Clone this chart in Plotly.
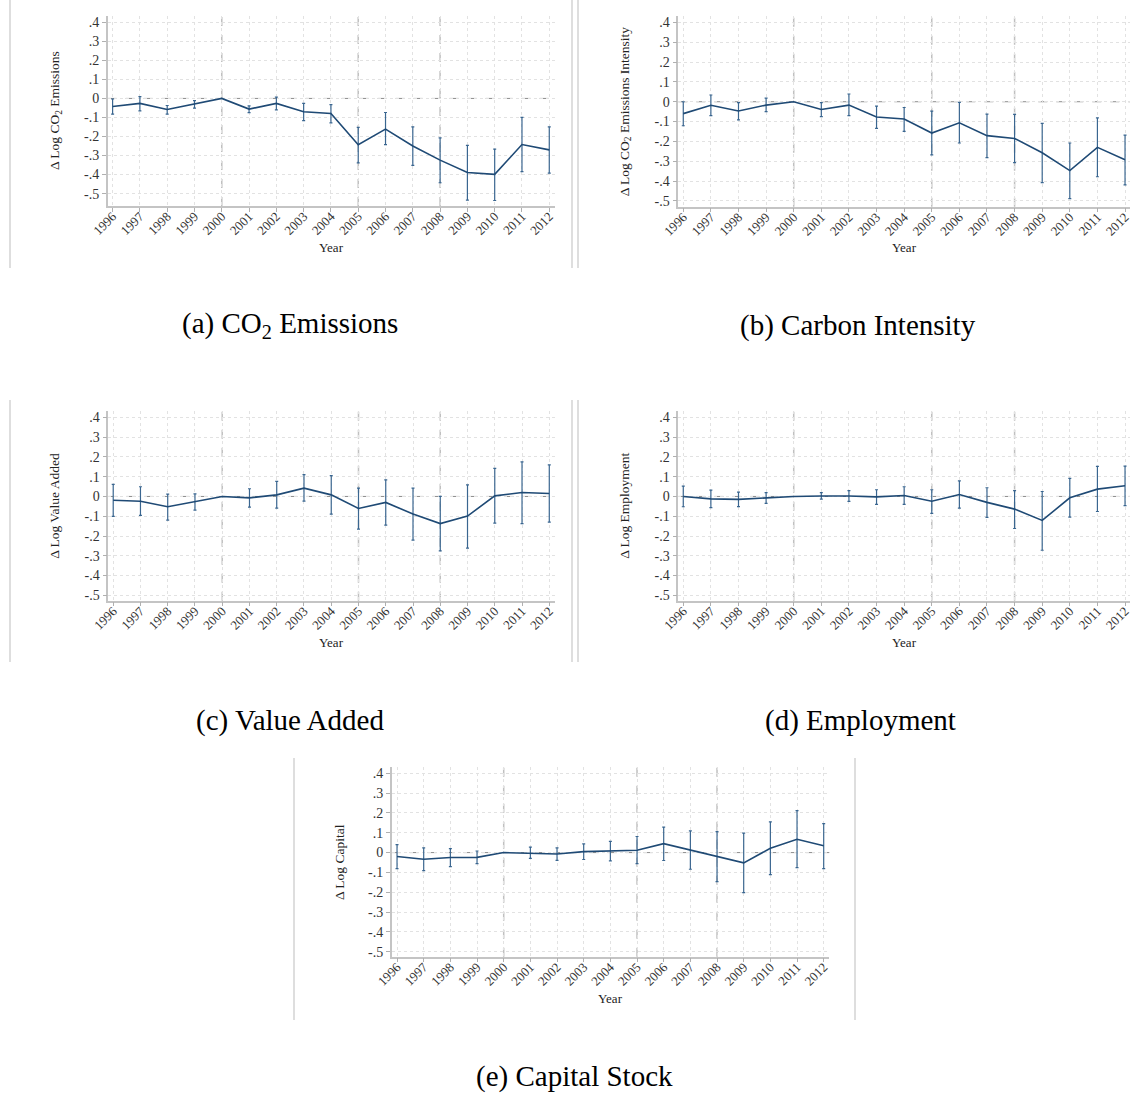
import numpy as np
import plotly.graph_objects as go

W, H = 1133, 1093

years = list(range(1996, 2013))

# (a) CO2 emissions
co2_est = [-0.042, -0.026, -0.058, -0.030, 0.0, -0.056, -0.026, -0.070, -0.079, -0.243, -0.161, -0.250, -0.324, -0.389, -0.399, -0.242, -0.270]
co2_hi = [-0.003, 0.010, -0.037, -0.011, None, -0.039, 0.007, -0.026, -0.033, -0.152, -0.074, -0.149, -0.207, -0.247, -0.266, -0.100, -0.149]
co2_lo = [-0.082, -0.065, -0.082, -0.051, None, -0.075, -0.060, -0.117, -0.128, -0.338, -0.243, -0.352, -0.443, -0.534, -0.536, -0.384, -0.392]

# (b) Carbon intensity
ci_est = [-0.060, -0.018, -0.047, -0.017, 0.0, -0.039, -0.017, -0.077, -0.087, -0.158, -0.106, -0.171, -0.185, -0.257, -0.347, -0.230, -0.292]
ci_hi = [0.000, 0.034, -0.005, 0.018, None, -0.005, 0.039, -0.022, -0.029, -0.047, -0.003, -0.062, -0.064, -0.109, -0.208, -0.081, -0.168]
ci_lo = [-0.121, -0.070, -0.091, -0.050, None, -0.075, -0.070, -0.134, -0.149, -0.268, -0.208, -0.282, -0.307, -0.408, -0.488, -0.378, -0.419]

# (c) Value added
va_est = [-0.019, -0.024, -0.052, -0.027, 0.0, -0.007, 0.008, 0.042, 0.008, -0.061, -0.030, -0.089, -0.137, -0.099, 0.003, 0.020, 0.015]
va_hi = [0.061, 0.049, 0.012, 0.013, None, 0.039, 0.076, 0.110, 0.105, 0.042, 0.084, 0.042, 0.000, 0.059, 0.142, 0.175, 0.160]
va_lo = [-0.101, -0.096, -0.120, -0.069, None, -0.054, -0.059, -0.024, -0.089, -0.165, -0.145, -0.221, -0.275, -0.261, -0.135, -0.137, -0.130]

# (d) Employment
emp_est = [0.000, -0.012, -0.015, -0.008, 0.0, 0.002, 0.002, -0.002, 0.005, -0.024, 0.010, -0.030, -0.064, -0.121, -0.007, 0.037, 0.054]
emp_hi = [0.052, 0.032, 0.022, 0.019, None, 0.019, 0.029, 0.034, 0.049, 0.034, 0.079, 0.044, 0.029, 0.025, 0.091, 0.152, 0.153]
emp_lo = [-0.052, -0.056, -0.051, -0.035, None, -0.013, -0.025, -0.040, -0.040, -0.086, -0.059, -0.106, -0.162, -0.272, -0.105, -0.076, -0.046]

# (e) Capital
cap_est = [-0.020, -0.034, -0.025, -0.024, 0.0, -0.002, -0.007, 0.005, 0.008, 0.012, 0.045, 0.012, -0.020, -0.052, 0.022, 0.067, 0.034]
cap_hi = [0.040, 0.024, 0.020, 0.008, None, 0.027, 0.024, 0.044, 0.057, 0.081, 0.128, 0.109, 0.106, 0.098, 0.155, 0.212, 0.146]
cap_lo = [-0.081, -0.091, -0.071, -0.056, None, -0.029, -0.039, -0.035, -0.042, -0.056, -0.040, -0.084, -0.146, -0.202, -0.111, -0.076, -0.081]

y_tickvals = [0.4, 0.3, 0.2, 0.1, 0.0, -0.1, -0.2, -0.3, -0.4, -0.5]
y_ticktext = [".4", ".3", ".2", ".1", "0", "-.1", "-.2", "-.3", "-.4", "-.5"]
ref_years = [2000, 2005, 2008]

ytitles = ["Δ Log CO<sub>2</sub> Emissions", "Δ Log CO<sub>2</sub> Emissions Intensity",
           "Δ Log Value Added", "Δ Log Employment", "Δ Log Capital"]
captions = ["(a) CO<sub>2</sub> Emissions", "(b) Carbon Intensity", "(c) Value Added",
            "(d) Employment", "(e) Capital Stock"]

series = [(co2_est, co2_hi, co2_lo), (ci_est, ci_hi, ci_lo), (va_est, va_hi, va_lo),
          (emp_est, emp_hi, emp_lo), (cap_est, cap_hi, cap_lo)]

# layout geometry in pixels: plot left, right, top, bottom, x range, y range
panels = [
    dict(l=107.7, r=555, t=16, b=206, xr=[1995.82, 2012.21], yr=[-0.565, 0.433],
         ytx=55, xtitle_y=248, cap=(290, 325)),
    dict(l=678.3, r=1130, t=16, b=206.7, xr=[1995.82, 2012.18], yr=[-0.529, 0.432],
         ytx=625, xtitle_y=248, cap=(858, 325)),
    dict(l=108.3, r=555, t=411, b=600.7, xr=[1995.82, 2012.21], yr=[-0.527, 0.432],
         ytx=55, xtitle_y=642, cap=(290, 720)),
    dict(l=678.3, r=1130, t=411, b=600.7, xr=[1995.82, 2012.18], yr=[-0.527, 0.432],
         ytx=625, xtitle_y=642, cap=(860, 720)),
    dict(l=391.7, r=829.3, t=767.3, b=956.7, xr=[1995.80, 2012.21], yr=[-0.525, 0.430],
         ytx=339, xtitle_y=998, cap=(574, 1076)),
]

FONT = "Liberation Serif"
LINE_COL = "#1f4a75"
fig = go.Figure()
layout = dict(width=W, height=H, margin=dict(l=0, r=0, t=0, b=0, pad=0), autosize=False,
              template="none",
              paper_bgcolor="white", plot_bgcolor="white", showlegend=False,
              font=dict(family=FONT, size=12, color="#333333"))
shapes, annots = [], []

def fx(px):
    return px / W

def fy(py):
    return 1 - py / H

for i, (p, (est, hi, lo)) in enumerate(zip(panels, series)):
    n = i + 1
    xa = "xaxis" if n == 1 else f"xaxis{n}"
    ya = "yaxis" if n == 1 else f"yaxis{n}"
    xr = "x" if n == 1 else f"x{n}"
    yr = "y" if n == 1 else f"y{n}"
    e = np.array(est, dtype=float)
    h = np.array([np.nan if v is None else v for v in hi], dtype=float)
    lw = np.array([np.nan if v is None else v for v in lo], dtype=float)
    fig.add_trace(go.Scatter(
        x=years, y=e, mode="lines", xaxis=xr, yaxis=yr,
        line=dict(color=LINE_COL, width=1.6),
        error_y=dict(type="data", symmetric=False, array=h - e, arrayminus=e - lw,
                     color="#3a6690", thickness=1.2, width=1.5),
    ))
    layout[xa] = dict(domain=[fx(p["l"]), fx(p["r"])], range=p["xr"], anchor=yr,
                      automargin=False, ticklabelstandoff=-8,
                      tickmode="array", tickvals=years, ticktext=[str(y) for y in years],
                      tickangle=-45, ticks="outside", ticklen=4, tickcolor="#b0b0b0",
                      showline=True, linecolor="#c4c4c4", linewidth=1.5,
                      showgrid=True, gridcolor="#e2e2e2", griddash="dot", gridwidth=1,
                      zeroline=False, tickfont=dict(family=FONT, size=13, color="#333333"),
                      fixedrange=True)
    layout[ya] = dict(domain=[fy(p["b"]), fy(p["t"])], range=p["yr"], anchor=xr,
                      automargin=False,
                      tickmode="array", tickvals=y_tickvals, ticktext=y_ticktext,
                      ticks="outside", ticklen=4, tickcolor="#b0b0b0",
                      showline=True, linecolor="#c4c4c4", linewidth=1.5,
                      showgrid=True, gridcolor="#e2e2e2", griddash="dot", gridwidth=1,
                      zeroline=False, tickfont=dict(family=FONT, size=14, color="#333333"),
                      fixedrange=True)
    for ry in ref_years:
        shapes.append(dict(type="line", xref=xr, yref=f"{yr} domain", x0=ry, x1=ry, y0=0, y1=1,
                           line=dict(color="#c0c0c0", width=1.5, dash="dash"), layer="below"))
    shapes.append(dict(type="line", xref=f"{xr} domain", yref=yr, x0=0, x1=1, y0=0, y1=0,
                       line=dict(color="#8c8c8c", width=1, dash="dash"), layer="below"))
    annots.append(dict(text=ytitles[i], x=fx(p["ytx"]), y=fy((p["t"] + p["b"]) / 2),
                       xref="paper", yref="paper", showarrow=False, textangle=-90,
                       xanchor="center", yanchor="middle",
                       font=dict(family=FONT, size=13.5, color="#222222")))
    annots.append(dict(text="Year", x=fx((p["l"] + p["r"]) / 2), y=fy(p["xtitle_y"]),
                       xref="paper", yref="paper", showarrow=False,
                       xanchor="center", yanchor="middle",
                       font=dict(family=FONT, size=13, color="#222222")))
    annots.append(dict(text=captions[i], x=fx(p["cap"][0]), y=fy(p["cap"][1]),
                       xref="paper", yref="paper", showarrow=False,
                       xanchor="center", yanchor="middle",
                       font=dict(family=FONT, size=29, color="#000000")))

frames = [(10, 0, 268), (572, 0, 268), (578, 0, 268),
          (10, 400, 662), (572, 400, 662), (578, 400, 662),
          (294, 758, 1020), (855, 758, 1020)]
for x0, y0, y1 in frames:
    shapes.append(dict(type="line", xref="paper", yref="paper",
                       x0=fx(x0), x1=fx(x0), y0=fy(y0), y1=fy(y1),
                       line=dict(color="#c8c8c8", width=1.2)))

layout["shapes"] = shapes
layout["annotations"] = annots
fig.update_layout(**layout)
fig.write_html("out.html", config={"displayModeBar": False},
               post_script="document.body.style.margin='0';document.body.style.overflow='hidden';")
